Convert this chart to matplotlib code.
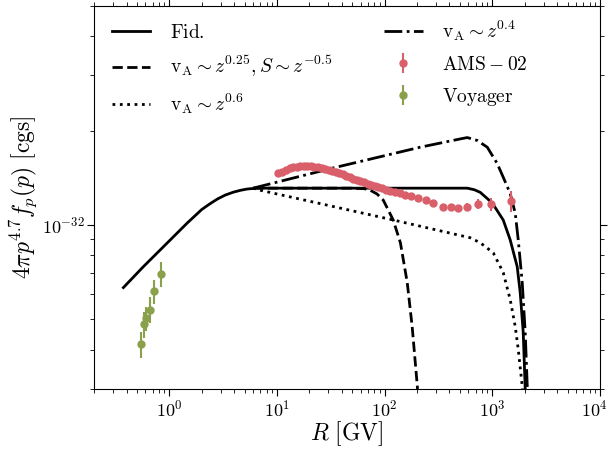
import numpy as np
import matplotlib
matplotlib.use('Agg')
import matplotlib.pyplot as plt
import matplotlib.transforms as mtransforms
from matplotlib.ticker import NullFormatter

plt.rcParams['mathtext.fontset'] = 'cm'
plt.rcParams['font.family'] = 'serif'
plt.rcParams['font.serif'] = ['cmr10', 'DejaVu Serif']
plt.rcParams['axes.formatter.use_mathtext'] = True

# model curves, f in units of 1e-32 cgs
R_fid = [0.374, 0.574, 0.825, 1.47, 2.0, 2.40, 2.8, 3.3, 3.93, 4.6, 5.3, 6.5, 10, 50, 200, 585,
         680, 773, 998, 1262, 1465, 1702, 1815, 1936, 2020, 2060]
f_fid = [0.631, 0.736, 0.833, 1.015, 1.12, 1.17, 1.21, 1.245, 1.272, 1.29, 1.302, 1.31, 1.31,
         1.31, 1.31, 1.31, 1.295, 1.27, 1.175, 1.037, 0.896, 0.736, 0.608, 0.454, 0.30, 0.25]

R_dash = [6.0, 20, 48, 65, 73.5, 85, 97, 120, 140, 162, 180, 201, 206]
f_dash = [1.31, 1.31, 1.31, 1.305, 1.29, 1.255, 1.20, 1.037, 0.877, 0.655, 0.474, 0.306, 0.26]

R_dot = [6.0, 7.0, 23.7, 120, 623, 773, 1019, 1262, 1465, 1632, 1740, 1895, 1960]
f_dot = [1.31, 1.29, 1.175, 1.037, 0.91, 0.877, 0.815, 0.705, 0.578, 0.474, 0.401, 0.306, 0.25]

R_dd = [6.0, 33.3, 214, 500, 585, 724, 897, 1110, 1262, 1465, 1632, 1740, 1895, 2020, 2110, 2150]
f_dd = [1.31, 1.52, 1.77, 1.88, 1.90, 1.86, 1.77, 1.57, 1.42, 1.26, 1.09, 0.896, 0.655, 0.454, 0.306, 0.25]

# AMS-02 points
R_ams = [10.3, 11.2, 12.1, 13.1, 14.1, 15.2, 16.4, 17.7, 19.1, 20.6, 22.2, 24.0, 25.9, 27.9,
         30.1, 32.5, 35.0, 37.8, 40.8, 44.0, 47.4, 51.2, 55.2, 59.5, 64.2, 69.3, 74.7, 80.6,
         87, 94, 102, 112, 124, 138, 155, 176, 202, 240, 283, 350, 415, 482, 585, 740, 977, 1497]
f_ams = [1.46, 1.48, 1.50, 1.52, 1.53, 1.535, 1.54, 1.54, 1.54, 1.54, 1.535, 1.53, 1.52, 1.51,
         1.50, 1.485, 1.47, 1.46, 1.45, 1.435, 1.42, 1.405, 1.39, 1.38, 1.37, 1.355, 1.345, 1.335,
         1.32, 1.31, 1.295, 1.285, 1.27, 1.26, 1.25, 1.235, 1.22, 1.20, 1.175, 1.14, 1.14, 1.13,
         1.14, 1.165, 1.165, 1.19]
e_ams = [0.01] * 37 + [0.012, 0.015, 0.02, 0.025, 0.03, 0.035, 0.045, 0.055, 0.09]

# Voyager points
R_voy = [0.55, 0.577, 0.608, 0.656, 0.726, 0.830]
f_voy = [0.416, 0.482, 0.503, 0.537, 0.614, 0.699]
e_voy = [0.04, 0.045, 0.045, 0.05, 0.055, 0.063]

xticks = [1, 10, 100, 1000, 10000]

scale = 1e-32
ams_color = '#d95f6a'
voy_color = '#8aa04a'

fig = plt.figure(figsize=(6.11, 4.5), dpi=100)
ax = fig.add_axes([0.154, 0.136, 0.828, 0.851])

ax.plot(R_fid, np.array(f_fid) * scale, 'k-', lw=2, label=r'$\rm Fid.$')
ax.plot(R_dash, np.array(f_dash) * scale, 'k--', lw=2,
        label=r'$\mathrm{v_A}\sim z^{0.25}, S\sim z^{-0.5}$')
ax.plot(R_dot, np.array(f_dot) * scale, 'k:', lw=2, label=r'$\mathrm{v_A}\sim z^{0.6}$')
ax.plot(R_dd, np.array(f_dd) * scale, 'k-.', lw=2, label=r'$\mathrm{v_A}\sim z^{0.4}$')

ax.errorbar(R_ams, np.array(f_ams) * scale, yerr=np.array(e_ams) * scale, fmt='o',
            color=ams_color, ms=5, elinewidth=1.5, capsize=0, zorder=5, label=r'$\rm AMS-02$')
ax.errorbar(R_voy, np.array(f_voy) * scale, yerr=np.array(e_voy) * scale, fmt='o',
            color=voy_color, ms=5, elinewidth=1.5, capsize=0, zorder=5, label=r'$\rm Voyager$')

ax.set_xscale('log')
ax.set_yscale('log')
ax.set_xlim(0.2, 1e4)
ax.set_ylim(3e-33, 5e-32)
ax.set_xticks(xticks)
ax.xaxis.set_minor_formatter(NullFormatter())
ax.yaxis.set_minor_formatter(NullFormatter())

ax.tick_params(which='both', direction='out', top=True, right=True, labelsize=13, pad=2)
ax.tick_params(which='major', length=5)
ax.tick_params(which='minor', length=3)

# last x label sits at the figure edge, nudge it in a little
last = ax.xaxis.get_major_ticks()[-1].label1
last.set_transform(last.get_transform() +
                   mtransforms.ScaledTranslation(-6 / 100, 0, fig.dpi_scale_trans))

ax.set_xlabel(r'$R\ [\mathrm{GV}]$', fontsize=17, labelpad=0)
ax.set_ylabel(r'$4\pi p^{4.7} f_p(p)\ [\mathrm{cgs}]$', fontsize=17, labelpad=2)

ax.legend(loc='upper left', ncol=2, frameon=False, fontsize=14, handlelength=2.0,
          handletextpad=1.0, columnspacing=2.65, labelspacing=0.63,
          bbox_to_anchor=(0.0, 1.012))

fig.savefig('out.png', dpi=100)
